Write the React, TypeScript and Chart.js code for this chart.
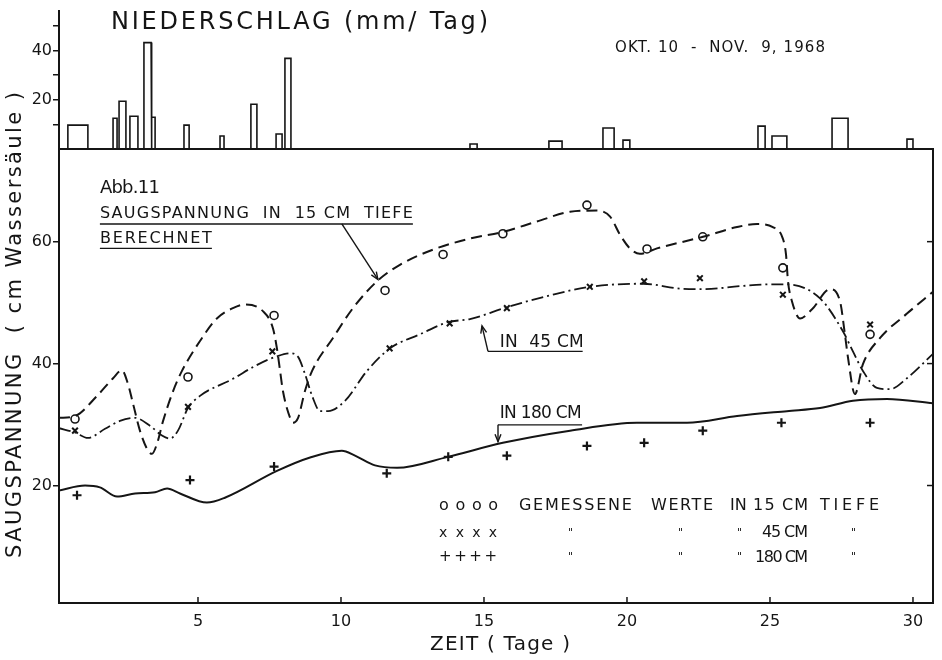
import React, { useEffect, useRef } from 'react';
import { Chart, registerables } from 'chart.js';

Chart.register(...registerables);

const INK = '#151515';
const FONT = "'DejaVu Sans', 'Liberation Sans', sans-serif";

// ---- Niederschlag (mm/Tag): Beginn, Ende (Tage), Höhe
const rainStart = [0.45, 2.03, 2.24, 2.62, 3.11, 3.39, 4.51, 5.77, 6.85, 7.73, 8.04, 14.51, 17.27, 19.16, 19.86, 24.58, 25.07, 27.17, 29.79];
const rainEnd = [1.15, 2.17, 2.48, 2.9, 3.36, 3.5, 4.69, 5.91, 7.06, 7.94, 8.25, 14.76, 17.73, 19.55, 20.1, 24.83, 25.59, 27.73, 30.0];
const rainMm = [9.7, 12.5, 19.4, 13.3, 43.2, 12.9, 9.7, 5.3, 18.2, 6.1, 36.8, 2.0, 3.2, 8.5, 3.6, 9.3, 5.3, 12.5, 4.0];

// ---- Saugspannung berechnet, 15 cm
const calc15Days = [0.14, 0.7, 1.47, 2.03, 2.34, 2.55, 2.73, 2.97, 3.22, 3.39, 3.57, 3.78, 4.13, 4.44, 5.07, 5.66, 6.22, 6.64, 7.27, 7.62, 7.76, 7.87, 7.97, 8.22, 8.32, 8.5, 8.74, 8.99, 9.72, 10.42, 11.26, 12.06, 13.22, 14.51, 15.66, 16.85, 18.01, 18.95, 19.41, 19.76, 20.1, 20.45, 21.05, 22.66, 23.85, 24.55, 25.1, 25.45, 25.56, 25.63, 25.77, 26.05, 26.47, 27.1, 27.45, 27.62, 27.73, 27.97, 28.25, 28.85, 29.79, 30.7];
const calc15Vals = [31.1, 31.4, 34.7, 37.6, 38.9, 36.7, 33.4, 29.0, 26.0, 25.2, 26.9, 30.6, 35.5, 38.8, 43.7, 47.4, 49.1, 49.7, 48.6, 45.8, 42.5, 38.8, 35.5, 31.1, 30.3, 31.1, 35.5, 38.8, 44.2, 49.1, 53.5, 56.2, 58.7, 60.5, 61.6, 63.3, 64.9, 65.1, 64.1, 61.1, 58.9, 58.0, 58.9, 60.8, 62.4, 62.9, 62.4, 60.5, 57.9, 53.5, 50.2, 47.4, 48.9, 52.2, 50.2, 44.8, 40.9, 35.0, 39.9, 44.2, 48.2, 51.8];

// ---- berechnet, 45 cm
const calc45Days = [0.14, 0.7, 1.15, 1.75, 2.27, 2.8, 3.32, 3.74, 4.02, 4.3, 4.65, 5.07, 6.22, 6.99, 7.76, 8.22, 8.5, 8.74, 8.99, 9.27, 9.55, 10.14, 10.91, 11.71, 12.76, 13.74, 14.51, 15.77, 17.31, 18.71, 20.56, 21.85, 22.66, 23.95, 25.0, 25.59, 26.75, 27.55, 27.9, 28.25, 28.74, 29.2, 29.79, 30.7];
const calc45Vals = [29.4, 28.7, 27.8, 29.3, 30.6, 31.1, 29.8, 28.2, 27.7, 29.0, 32.7, 34.7, 37.5, 39.6, 41.2, 41.7, 41.1, 38.3, 34.7, 32.2, 32.2, 33.9, 38.8, 42.5, 44.8, 46.8, 47.3, 49.2, 51.2, 52.6, 53.1, 52.3, 52.2, 52.7, 53.0, 53.0, 50.7, 45.3, 42.0, 38.8, 36.0, 35.8, 37.6, 41.6];

// ---- berechnet, 180 cm
const calc180Days = [0.14, 1.05, 1.57, 2.17, 2.8, 3.5, 3.92, 4.37, 5.31, 5.94, 7.76, 8.92, 10.03, 10.49, 11.19, 11.96, 13.74, 15.66, 18.01, 20.35, 22.1, 23.85, 25.59, 26.75, 27.9, 29.09, 30.7];
const calc180Vals = [19.2, 20.0, 19.7, 18.2, 18.7, 18.9, 19.5, 18.7, 17.2, 18.0, 22.4, 24.6, 25.7, 24.9, 23.3, 22.9, 24.7, 27.0, 29.0, 30.3, 30.3, 31.4, 32.2, 32.7, 33.9, 34.2, 33.5];

// ---- gemessene Werte
const meas15Days = [0.7, 4.65, 7.66, 11.54, 13.57, 15.66, 18.6, 20.7, 22.65, 25.45, 28.5];
const meas15Vals = [30.9, 37.8, 47.9, 52.0, 57.9, 61.3, 66.0, 58.8, 60.8, 55.7, 44.8];
const meas45Days = [0.7, 4.65, 7.6, 11.7, 13.8, 15.8, 18.7, 20.6, 22.55, 25.45, 28.5];
const meas45Vals = [29.0, 32.9, 42.0, 42.5, 46.6, 49.1, 52.6, 53.5, 54.0, 51.3, 46.4];
const meas180Days = [0.77, 4.72, 7.66, 11.6, 13.75, 15.8, 18.6, 20.6, 22.65, 25.4, 28.5];
const meas180Vals = [18.4, 20.9, 23.1, 22.0, 24.7, 24.9, 26.5, 27.0, 29.0, 30.3, 30.3];

// ---- ticks
const xTickValues = [5, 10, 15, 20, 25, 30];
const yTickValues = [20, 40, 60];
const rainTickValues = [10, 20, 30, 40, 50];
const rainTickLabels = [20, 40];

const pts = (xs: number[], ys: number[]) => xs.map((x, i) => ({ x, y: ys[i] }));

function rainOutline() {
  const out: { x: number; y: number }[] = [];
  rainStart.forEach((s, i) => {
    out.push({ x: s, y: 0 }, { x: s, y: rainMm[i] }, { x: rainEnd[i], y: rainMm[i] }, { x: rainEnd[i], y: 0 });
  });
  return out;
}

function drawLabel(ctx: any, text: string, x: number, y: number, size: number, width?: number, align = 'left') {
  ctx.save();
  ctx.font = `${size}px ${FONT}`;
  ctx.fillStyle = INK;
  ctx.textBaseline = 'middle';
  ctx.textAlign = 'left';
  ctx.letterSpacing = '0px';
  let w = ctx.measureText(text).width;
  if (width && text.length > 1) {
    const ls = (width - w) / (text.length - 1);
    ctx.letterSpacing = `${ls}px`;
    w = width;
  }
  const x0 = align === 'center' ? x - w / 2 : x;
  ctx.fillText(text, x0, y);
  ctx.letterSpacing = '0px';
  ctx.restore();
  return w;
}

function line(ctx: any, x1: number, y1: number, x2: number, y2: number) {
  ctx.beginPath();
  ctx.moveTo(x1, y1);
  ctx.lineTo(x2, y2);
  ctx.stroke();
}

function arrow(ctx: any, x1: number, y1: number, x2: number, y2: number) {
  line(ctx, x1, y1, x2, y2);
  const a = Math.atan2(y2 - y1, x2 - x1);
  const h = 8, s = 0.38;
  ctx.beginPath();
  ctx.moveTo(x2 - h * Math.cos(a - s), y2 - h * Math.sin(a - s));
  ctx.lineTo(x2, y2);
  ctx.lineTo(x2 - h * Math.cos(a + s), y2 - h * Math.sin(a + s));
  ctx.stroke();
}

const decorations = {
  id: 'decorations',
  afterDraw(chart: any) {
    const ctx = chart.ctx;
    const xs = chart.scales.x;
    const ys = chart.scales.y;
    const L = chart.chartArea.left;
    const R = chart.chartArea.right;
    const X = (d: number) => xs.getPixelForValue(d);
    const Y = (v: number) => ys.getPixelForValue(v);
    ctx.save();
    ctx.strokeStyle = INK;
    ctx.lineCap = 'butt';
    // frame of lower panel
    ctx.lineWidth = 2;
    line(ctx, L - 1, ys.top, R + 1, ys.top);
    line(ctx, R, ys.top, R, ys.bottom);
    ctx.lineWidth = 1.5;
    yTickValues.forEach((v) => line(ctx, R, Y(v), R - 6, Y(v)));
    xTickValues.forEach((d) => line(ctx, X(d), ys.bottom, X(d), ys.bottom - 6));

    // headings
    drawLabel(ctx, 'NIEDERSCHLAG (mm/ Tag)', 111, 23, 24, 377);
    drawLabel(ctx, 'OKT. 10  -  NOV.  9, 1968', 615, 48, 15, 210);

    // axis titles
    drawLabel(ctx, 'ZEIT ( Tage )', 430, 645, 20, 140);
    ctx.save();
    ctx.translate(16, 325);
    ctx.rotate(-Math.PI / 2);
    drawLabel(ctx, 'SAUGSPANNUNG  ( cm Wassersäule )', 0, 0, 21, 466, 'center');
    ctx.restore();

    // annotation block
    const ax = X(1.57);
    drawLabel(ctx, 'Abb.11', ax, Y(68.8), 18, 60);
    drawLabel(ctx, 'SAUGSPANNUNG  IN  15 CM  TIEFE', ax, Y(64.6), 16, 313);
    drawLabel(ctx, 'BERECHNET', ax, Y(60.5), 16, 112);
    ctx.lineWidth = 1.4;
    line(ctx, ax, Y(62.9), ax + 313, Y(62.9));
    line(ctx, ax, Y(58.9), ax + 112, Y(58.9));
    arrow(ctx, X(10.03), Y(62.9), X(11.29), Y(53.8));

    // IN 45 CM
    drawLabel(ctx, 'IN  45 CM', X(15.55), Y(43.5), 17, 84);
    line(ctx, X(15.14), Y(42.0), X(18.45), Y(42.0));
    arrow(ctx, X(15.14), Y(42.0), X(14.93), Y(46.2));

    // IN 180 CM
    drawLabel(ctx, 'IN 180 CM', X(15.55), Y(31.75), 17, 82);
    line(ctx, X(15.49), Y(29.95), X(18.43), Y(29.95));
    arrow(ctx, X(15.49), Y(29.95), X(15.49), Y(27.2));

    // legend of measured values
    const r1 = Y(16.7), r2 = Y(12.2), r3 = Y(8.2);
    drawLabel(ctx, 'o o o o', X(13.43), r1, 16, 59);
    drawLabel(ctx, 'GEMESSENE', X(16.22), r1, 16, 113);
    drawLabel(ctx, 'WERTE', X(20.84), r1, 16, 62);
    drawLabel(ctx, 'IN', X(23.6), r1, 16);
    drawLabel(ctx, '15 CM', X(24.41), r1, 16, 55);
    drawLabel(ctx, 'TIEFE', X(26.75), r1, 16, 59);

    drawLabel(ctx, 'x x x x', X(13.43), r2, 14, 58);
    drawLabel(ctx, '"', X(17.94), r2, 11);
    drawLabel(ctx, '"', X(21.78), r2, 11);
    drawLabel(ctx, '"', X(23.85), r2, 11);
    drawLabel(ctx, '45 CM', X(24.72), r2, 16, 46);
    drawLabel(ctx, '"', X(27.83), r2, 11);

    drawLabel(ctx, '+ + + +', X(13.43), r3, 15, 58);
    drawLabel(ctx, '"', X(17.94), r3, 11);
    drawLabel(ctx, '"', X(21.78), r3, 11);
    drawLabel(ctx, '"', X(23.85), r3, 11);
    drawLabel(ctx, '180 CM', X(24.48), r3, 16, 53);
    drawLabel(ctx, '"', X(27.83), r3, 11);
    ctx.restore();
  },
};

export default function App() {
  const ref = useRef<HTMLCanvasElement>(null);
  useEffect(() => {
    const tickFont = { family: FONT, size: 16 };
    const chart = new Chart(ref.current as HTMLCanvasElement, {
      type: 'line',
      data: {
        datasets: [
          {
            label: 'Niederschlag',
            data: rainOutline(),
            yAxisID: 'yRain',
            borderColor: INK,
            borderWidth: 1.6,
            pointRadius: 0,
            tension: 0,
            fill: false,
          },
          {
            label: 'berechnet 15 cm',
            data: pts(calc15Days, calc15Vals),
            yAxisID: 'y',
            borderColor: INK,
            borderWidth: 2,
            borderDash: [11, 6],
            pointRadius: 0,
            cubicInterpolationMode: 'monotone',
            fill: false,
          },
          {
            label: 'berechnet 45 cm',
            data: pts(calc45Days, calc45Vals),
            yAxisID: 'y',
            borderColor: INK,
            borderWidth: 1.8,
            borderDash: [12, 4, 2, 4],
            pointRadius: 0,
            cubicInterpolationMode: 'monotone',
            fill: false,
          },
          {
            label: 'berechnet 180 cm',
            data: pts(calc180Days, calc180Vals),
            yAxisID: 'y',
            borderColor: INK,
            borderWidth: 2,
            pointRadius: 0,
            cubicInterpolationMode: 'monotone',
            fill: false,
          },
          {
            label: 'gemessen 15 cm',
            data: pts(meas15Days, meas15Vals),
            yAxisID: 'y',
            showLine: false,
            pointStyle: 'circle',
            pointRadius: 4,
            pointBackgroundColor: '#ffffff',
            pointBorderColor: INK,
            pointBorderWidth: 1.6,
          },
          {
            label: 'gemessen 45 cm',
            data: pts(meas45Days, meas45Vals),
            yAxisID: 'y',
            showLine: false,
            pointStyle: 'crossRot',
            pointRadius: 4,
            pointBorderColor: INK,
            pointBorderWidth: 2,
          },
          {
            label: 'gemessen 180 cm',
            data: pts(meas180Days, meas180Vals),
            yAxisID: 'y',
            showLine: false,
            pointStyle: 'cross',
            pointRadius: 4.5,
            pointBorderColor: INK,
            pointBorderWidth: 2.2,
          },
        ],
      },
      options: {
        animation: false,
        responsive: false,
        devicePixelRatio: 1,
        events: [],
        layout: { padding: { left: 0, right: 9, top: 8, bottom: 0 } },
        plugins: { legend: { display: false }, tooltip: { enabled: false } },
        scales: {
          x: {
            type: 'linear',
            min: 0.14,
            max: 30.7,
            afterBuildTicks: (s: any) => {
              s.ticks = xTickValues.map((value) => ({ value }));
            },
            afterFit: (s: any) => {
              s.height = 57;
            },
            ticks: { font: tickFont, color: INK, padding: 9, maxRotation: 0, autoSkip: false },
            grid: { drawOnChartArea: false, drawTicks: false },
            border: { color: INK, width: 2 },
          },
          y: {
            type: 'linear',
            position: 'left',
            stack: 'panels',
            stackWeight: 456,
            weight: 0,
            min: 0.73,
            max: 75.2,
            afterBuildTicks: (s: any) => {
              s.ticks = yTickValues.map((value) => ({ value }));
            },
            afterFit: (s: any) => {
              s.width = 59;
            },
            ticks: { font: tickFont, color: INK, padding: 1, autoSkip: false },
            grid: { drawOnChartArea: false, color: INK, lineWidth: 1.5, tickLength: 6 },
            border: { color: INK, width: 2 },
          },
          yRain: {
            type: 'linear',
            position: 'left',
            stack: 'panels',
            stackWeight: 139,
            weight: 1,
            min: 0,
            max: 56.2,
            afterBuildTicks: (s: any) => {
              s.ticks = rainTickValues.map((value) => ({ value }));
            },
            afterFit: (s: any) => {
              s.width = 59;
            },
            ticks: {
              font: tickFont,
              color: INK,
              padding: 1,
              autoSkip: false,
              callback: (v: any) => (rainTickLabels.includes(Number(v)) ? String(v) : ''),
            },
            grid: { drawOnChartArea: false, color: INK, lineWidth: 1.5, tickLength: 6 },
            border: { color: INK, width: 2 },
          },
        },
      } as any,
      plugins: [decorations],
    } as any);
    return () => chart.destroy();
  }, []);

  return (
    <div style={{ position: 'absolute', left: 0, top: 0, width: 942, height: 660, background: '#ffffff' }}>
      <canvas ref={ref} width={942} height={660} style={{ display: 'block', width: 942, height: 660 }} />
    </div>
  );
}
